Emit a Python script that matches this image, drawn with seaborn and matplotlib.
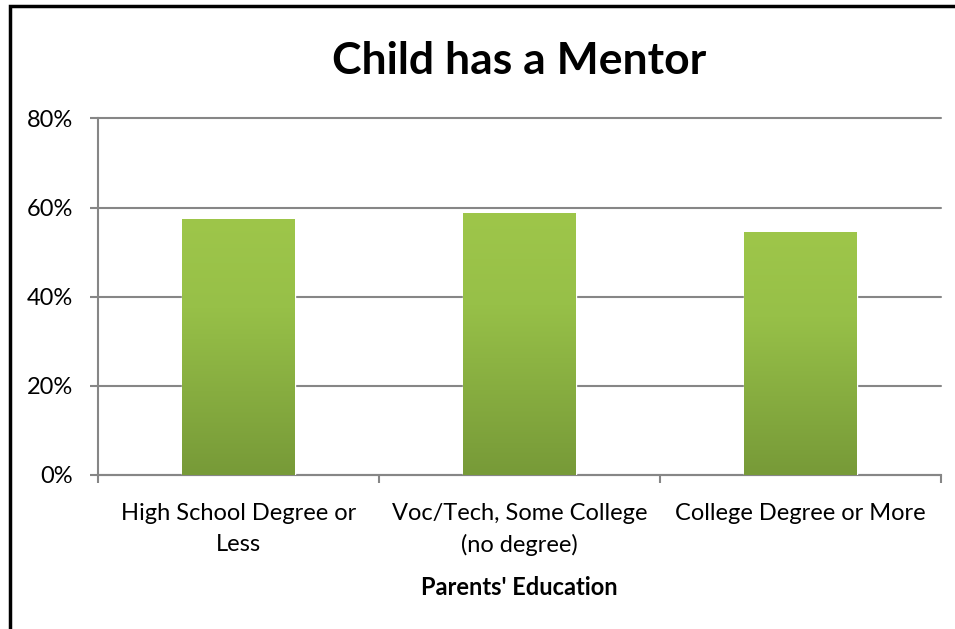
import numpy as np
import matplotlib.pyplot as plt
import matplotlib.patches as mpatches
from matplotlib.colors import LinearSegmentedColormap
from matplotlib.ticker import PercentFormatter, FixedLocator
import seaborn as sns
import pandas as pd

# data
categories = ["High School Degree or\nLess", "Voc/Tech, Some College\n(no degree)", "College Degree or More"]
has_mentor = [0.575, 0.588, 0.545]
yticks = [0, 0.2, 0.4, 0.6, 0.8]

df = pd.DataFrame({"education": categories, "mentor": has_mentor})

sns.set_style("white")
plt.rcParams['font.family'] = ['Lato', 'DejaVu Sans']
plt.rcParams['text.color'] = 'black'

fig = plt.figure(figsize=(9.55, 6.29), dpi=100)
ax = fig.add_axes([98 / 955, 1 - 474.7 / 629, 843 / 955, 356.2 / 629])

sns.barplot(data=df, x="education", y="mentor", ax=ax, color="#9BC34A", width=0.4, zorder=3)

ax.set_ylim(0, 0.8)
ax.set_xlim(-0.5, len(categories) - 0.5)
ax.yaxis.set_major_locator(FixedLocator(yticks))
ax.yaxis.set_major_formatter(PercentFormatter(1.0, decimals=0))
ax.grid(axis="y", color="#868686", linewidth=1.5, zorder=0)
ax.set_axisbelow(True)
for gl in ax.get_ygridlines():
    gl.set_clip_on(False)

# gradient fill clipped to each bar
cmap = LinearSegmentedColormap.from_list("g", [(0, "#779A38"), (0.65, "#97C048"), (1, "#9EC64A")])
grad = np.linspace(0, 1, 256).reshape(-1, 1)
for bar in list(ax.patches):
    x0, y0 = bar.get_x(), bar.get_y()
    w, h = bar.get_width(), bar.get_height()
    # soft shadow
    sh = mpatches.Rectangle((x0 + 0.006, y0 - 0.002), w, h, facecolor="#000000", alpha=0.12,
                            edgecolor="none", zorder=2.5)
    ax.add_patch(sh)
    im = ax.imshow(grad, extent=[x0, x0 + w, y0, y0 + h], origin="lower", cmap=cmap,
                   aspect="auto", zorder=3.5)
    im.set_clip_path(bar)
ax.set_xlim(-0.5, len(categories) - 0.5)
ax.set_ylim(0, 0.8)

for s in ["top", "right"]:
    ax.spines[s].set_visible(False)
for s in ["left", "bottom"]:
    ax.spines[s].set_color("#868686")
    ax.spines[s].set_linewidth(1.5)

ax.tick_params(axis="y", length=6, width=1.5, color="#868686", pad=12, labelsize=17, labelcolor="black", left=True)
ax.tick_params(axis="x", which="major", length=0, pad=20.5, labelsize=17, labelcolor="black")
ax.set_xticks([-0.5, 0.5, 1.5, 2.5], minor=True)
ax.tick_params(axis="x", which="minor", length=6, width=1.5, color="#868686", bottom=True)
for lab in ax.get_xticklabels():
    lab.set_linespacing(1.55)

ax.set_xlabel("Parents' Education", fontsize=17, fontweight="bold", labelpad=14, color="black")
ax.set_ylabel("")
fig.text((98 + 941) / 2 / 955, 1 - 61 / 629, "Child has a Mentor", ha="center", va="center",
         fontsize=32, fontweight="bold", color="black")

# chart border (top and left visible in the screenshot)
fig.patches.append(mpatches.Rectangle((10 / 955, -0.1), 1.2, 1.1 - 6 / 629, transform=fig.transFigure,
                                      fill=False, edgecolor="black", linewidth=2.5, clip_on=False))

fig.savefig("out.png", dpi=100)
